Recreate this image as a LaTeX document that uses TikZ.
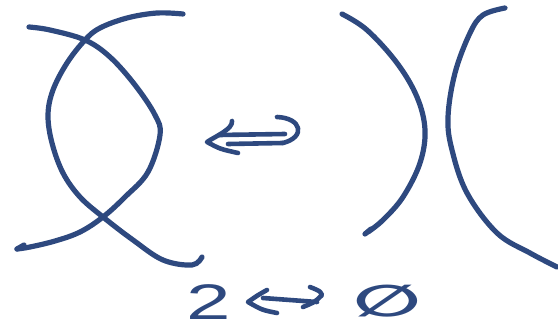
\documentclass[tikz,border=0pt]{standalone}
\usepackage{fontspec}
\setmainfont{Liberation Sans}
\newfontfamily\symfont{DejaVu Sans}
\definecolor{ink}{RGB}{46,73,127}
\begin{document}
\begin{tikzpicture}[x=1pt,y=-1pt,
  pen/.style={draw=ink,line width=5.2pt,line cap=round,line join=round},
  penthin/.style={draw=ink,line width=4.6pt,line cap=round,line join=round},
  glyph/.style={text=ink,inner sep=0pt}]
\useasboundingbox (0,0) rectangle (558,330);
% left: two crossing strands
\draw[pen] plot[smooth,tension=0.6] coordinates {(29,27) (50,30) (85,40) (110,57) (135,85) (155,115) (160,135) (148,172) (125,197) (103,217) (80,232) (55,241) (30,247) (17,249)};
\draw[pen] (17,249) -- (24,245);
\draw[pen] plot[smooth,tension=0.6] coordinates {(202,257) (192,265) (163,260) (133,240) (103,217) (80,197) (63,173) (52,143) (48,115) (53,90) (67,63) (85,40) (100,28) (127,18) (157,13) (183,14)};
% right: two facing arcs
\draw[pen] plot[smooth,tension=0.6] coordinates {(342,14) (367,30) (397,63) (417,97) (425,130) (420,163) (403,197) (383,220) (368,232)};
\draw[pen] (365,234) -- (371,229);
\draw[pen] plot[smooth,tension=0.6] coordinates {(505,8) (483,15) (470,33) (455,73) (448,117) (452,150) (467,193) (497,233) (530,253) (557,267)};
% middle double arrow
\coordinate (mt) at (207,142);
\draw[penthin] (232,121) .. controls (233,129) and (216,136) .. (mt) .. controls (220,149) .. (238,153);
\draw[penthin] (219,135) -- (285,134);
\draw[penthin] (228,144) -- (283,143);
\draw[penthin] (277,117) .. controls (302,118) and (306,137) .. (283,143);
% bottom: 2 <-> empty set
\node[glyph,font=\fontsize{50}{50}\selectfont,xscale=1.6] (two) at (209,302) {2};
\node[glyph,font=\symfont\bfseries\fontsize{44}{44}\selectfont,xscale=1.8] (empty) at (387,301) {∅};
\coordinate (bl) at (248,302);
\draw[penthin] (267,290) .. controls (258,295) .. (bl) .. controls (262,310) .. (277,313);
\draw[penthin] (263,298) -- (317,302);
\draw[penthin] (310,287) .. controls (320,291) .. (322,295) .. controls (315,302) .. (303,307);
\end{tikzpicture}
\end{document}
